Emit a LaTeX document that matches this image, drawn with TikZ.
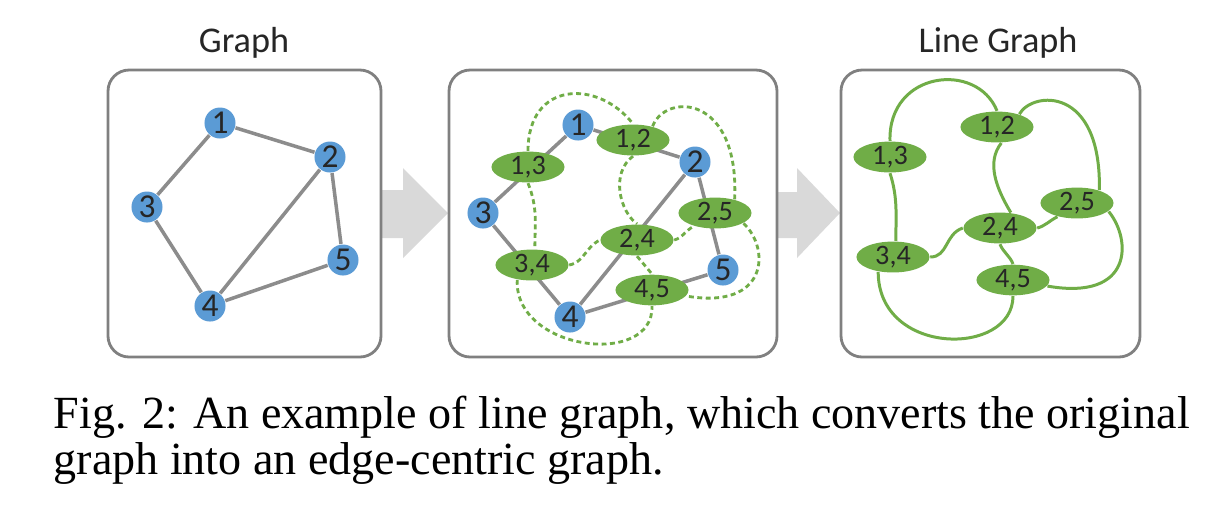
\documentclass[tikz,border=0pt]{standalone}
\usepackage{fontspec}
\setmainfont{Carlito}
\newfontfamily\capfont{Liberation Serif}
\usetikzlibrary{shapes.geometric, calc}
\definecolor{VBlue}  {HTML}{5B9BD5}
\definecolor{EGreen} {HTML}{70AD47}
\definecolor{EdgeGr} {HTML}{8C8C8C}
\definecolor{PanelGr}{HTML}{808080}
\definecolor{ArrGr}  {HTML}{D9D9D9}
\tikzset{
  panel/.style={
    draw=PanelGr, fill=white, rounded corners=6pt,
    line width=0.8pt,
  },
  vtx/.style={
    circle, fill=VBlue, text=black!85,
    minimum size=0.31cm, inner sep=0pt,
    font=\fontsize{9.5}{9.5}\selectfont,
  },
  enode/.style={
    ellipse, fill=EGreen, text=black!85,
    minimum width=0.73cm, minimum height=0.27cm, inner sep=0pt,
    font=\fontsize{8}{8}\selectfont,
  },
  gedge/.style={draw=EdgeGr, line width=1pt},
  ldash/.style={draw=EGreen, line width=0.8pt, dash pattern=on 1.4pt off 1pt},
  lline/.style={draw=EGreen, line width=0.85pt},
  bigarr/.style={fill=ArrGr, draw=none},
  ttl/.style={font=\fontsize{10.3}{12}\selectfont, text=black!85, anchor=base},
  captxt/.style={font=\capfont\fontsize{13.1}{15}\selectfont, anchor=base west, inner sep=0pt},
}

\begin{document}
\begin{tikzpicture}[x=0.01cm,y=-0.01cm]
  \useasboundingbox (0,0) rectangle (1215,523);

  % block arrows between the panels
  \fill[bigarr] (370,190) -- (403,190) -- (403,168) -- (448,213)
                -- (403,258) -- (403,238) -- (370,238) -- cycle;
  \fill[bigarr] (765,192) -- (797,192) -- (797,168) -- (840,213)
                -- (797,258) -- (797,238) -- (765,238) -- cycle;

  \draw[panel] (108,70) rectangle (381,357);
  \draw[panel] (449,70) rectangle (777,357);
  \draw[panel] (841,70) rectangle (1140,357);

  \node[ttl] (tg) at (244,52) {Graph};
  \node[ttl] (tl) at (998,52) {Line Graph};

  % original graph
  \foreach \n/\x/\y in {1/220/123, 2/330/157, 3/147/207, 4/210/306, 5/343/260}{
    \node[vtx] (a\n) at (\x,\y) {\n};
  }
  \foreach \i/\j in {1/2, 1/3, 3/4, 2/4, 2/5, 4/5}{
    \draw[gedge] (a\i) -- (a\j);
  }

  % graph with edge nodes
  \foreach \n/\x/\y in {1/578/125, 2/695/162, 3/483/213, 4/570/317, 5/723/270}{
    \node[vtx] (b\n) at (\x,\y) {\n};
  }
  \foreach \i/\j in {1/2, 1/3, 3/4, 2/4, 2/5, 4/5}{
    \draw[gedge] (b\i) -- (b\j);
  }
  \node[enode] (e12) at (633,140) {1,2};
  \node[enode] (e13) at (528,167) {1,3};
  \node[enode] (e25) at (715,213) {2,5};
  \node[enode] (e24) at (637,240) {2,4};
  \node[enode] (e34) at (532,265) {3,4};
  \node[enode] (e45) at (652,290) {4,5};

  \draw[ldash] (e13.north) .. controls +(0,-70) and +(-35,-45) .. (e12.north);
  \draw[ldash] (e12.35) .. controls +(13,-34) and +(5,-105) .. (e25.35);
  \draw[ldash] (e12.south) .. controls +(-23,17) and +(-17,-12) .. (e24.north);
  \draw[ldash] (e13.south) .. controls +(10,25) and +(0,-25) .. (e34.80);
  \draw[ldash] (e34.east) .. controls +(15,-3) and +(-15,8) .. (e24.west);
  \draw[ldash] (e24.east) .. controls +(8,-2) and +(-8,4) .. (e25.-148);
  \draw[ldash] (e24.south) -- (e45.north);
  \draw[ldash] (e34.-135) .. controls +(-3,71) and +(2,62) .. (e45.south);
  \draw[ldash] (e25.-20) .. controls +(27,25) and +(82,14) .. (e45.-10);

  % line graph
  \node[enode] (f12) at (997,127) {1,2};
  \node[enode] (f13) at (890,157) {1,3};
  \node[enode] (f25) at (1077,203) {2,5};
  \node[enode] (f24) at (1000,228) {2,4};
  \node[enode] (f34) at (893,257) {3,4};
  \node[enode] (f45) at (1013,280) {4,5};

  \draw[lline] (f13.north) .. controls +(-2,-70) and +(-20,-50) .. (f12.north);
  \draw[lline] (f12.30) .. controls +(13,-23) and +(2,-105) .. (f25.30);
  \draw[lline] (f12.-75) .. controls +(-15,19) and +(-15,-25) .. (f24.55);
  \draw[lline] (f13.south) .. controls +(8,25) and +(0,-25) .. (f34.80);
  \draw[lline] (f34.east) .. controls +(18,0) and +(-18,6) .. (f24.west);
  \draw[lline] (f24.east) .. controls +(8,-2) and +(-8,4) .. (f25.-145);
  \draw[lline] (f24.south) .. controls +(3,8) and +(-3,-8) .. (f45.north);
  \draw[lline] (f34.-135) .. controls +(0,85) and +(0,61) .. (f45.south);
  \draw[lline] (f25.-15) .. controls +(23,28) and +(86,15) .. (f45.-10);

  % caption
  \node[captxt] (c1) at (53,428)
    {Fig. 2: An example of line graph, which converts the original};
  \node[captxt] (c2) at (53,474) {graph into an edge-centric graph.};

\end{tikzpicture}
\end{document}
